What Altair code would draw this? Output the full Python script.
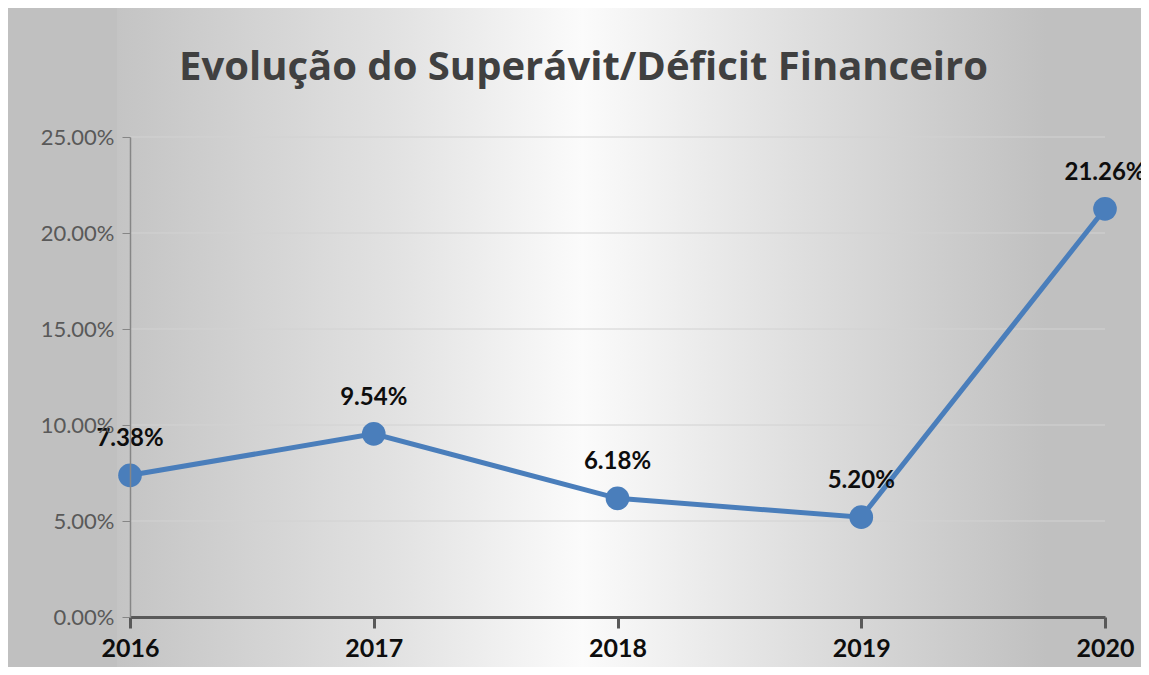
import altair as alt
import pandas as pd

years = ["2016", "2017", "2018", "2019", "2020"]
values = [0.0738, 0.0954, 0.0618, 0.0520, 0.2126]
y_ticks = [0.0, 0.05, 0.10, 0.15, 0.20, 0.25]
grid_levels = [0.05, 0.10, 0.15, 0.20, 0.25]
title_text = "Evolução do Superávit/Déficit Financeiro"

df = pd.DataFrame({"ano": years, "valor": values})
grid_df = pd.DataFrame({"valor": grid_levels})
bg_df = pd.DataFrame({"k": [0]})

FONT = "Lato"
LINE_COLOR = "#4a7ebb"

gradient = alt.LinearGradient(
    gradient="linear",
    stops=[
        alt.GradientStop(color="#c4c4c4", offset=0),
        alt.GradientStop(color="#e2e2e2", offset=0.3),
        alt.GradientStop(color="#fbfbfb", offset=0.5),
        alt.GradientStop(color="#e0e0e0", offset=0.72),
        alt.GradientStop(color="#c0c0c0", offset=1),
    ],
    x1=0, x2=1, y1=0, y2=0,
)

bg = alt.Chart(bg_df).mark_rect(fill=gradient).encode(
    x=alt.value(-13), x2=alt.value(917),
    y=alt.value(-129), y2=alt.value(530),
)

y_scale = alt.Scale(domain=[0, 0.25], nice=False)
y_axis = alt.Axis(
    title=None, values=y_ticks, format=".2%", labelFont=FONT,
    labelFontSize=22, labelColor="#595959", labelPadding=8,
    domainColor="#868686", domainWidth=1.5, tickColor="#868686",
    tickSize=8, grid=False, zindex=1,
)

grid = alt.Chart(grid_df).mark_rule(color="#d2d2d2", strokeWidth=1).encode(
    y=alt.Y("valor:Q", scale=y_scale, axis=y_axis),
)

x_enc = alt.X(
    "ano:O",
    sort=years,
    scale=alt.Scale(type="point", padding=0),
    axis=alt.Axis(
        title=None, labelAngle=0, labelFont=FONT, labelFontSize=25,
        labelFontWeight="bold", labelColor="#0d0d0d", labelPadding=8,
        domainColor="#595959", domainWidth=3, tickColor="#595959",
        tickWidth=3, tickSize=11, grid=False, zindex=1,
    ),
)
y_enc = alt.Y("valor:Q", scale=y_scale, axis=y_axis)

base = alt.Chart(df).encode(x=x_enc, y=y_enc)

line = base.mark_line(color=LINE_COLOR, strokeWidth=5)
points = base.mark_circle(color=LINE_COLOR, size=560, opacity=1)
labels = base.mark_text(
    dy=-36, font=FONT, fontSize=24, fontWeight="bold", color="#0d0d0d"
).encode(text=alt.Text("valor:Q", format=".2%"))

chart = alt.layer(bg, grid, line, points, labels).properties(
    width=975,
    height=480,
    autosize=alt.AutoSizeParams(type="none"),
    padding={"left": 122, "top": 129, "right": 36, "bottom": 50},
    background="#c0c0c0",
    title=alt.TitleParams(
        text=title_text, font="Open Sans", fontSize=40, fontWeight="bold",
        color="#404040", anchor="middle", frame="group",
        baseline="alphabetic", offset=-112, dx=-34,
    ),
).configure_view(stroke=None)

chart.save("out.html", embed_options={"renderer": "svg", "actions": False})
